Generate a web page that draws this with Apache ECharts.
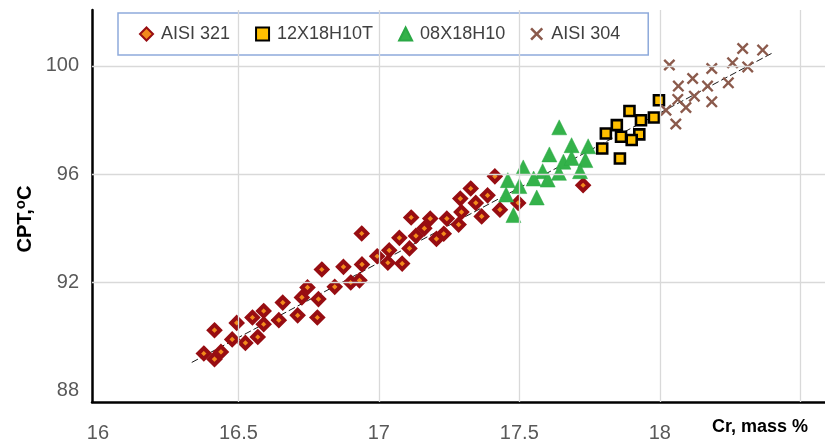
<!DOCTYPE html>
<html>
<head>
<meta charset="utf-8">
<script src="https://cdn.jsdelivr.net/npm/echarts@6/dist/echarts.min.js"></script>
<style>
html,body{margin:0;padding:0;background:#fff;}
#chart{width:825px;height:443px;}
</style>
</head>
<body>
<div id="chart"></div>
<script>
// ---- data ----
const seriesNames = ['AISI 321', '12X18H10T', '08X18H10', 'AISI 304'];

const aisi321Cr = [16.377,16.415,16.438,16.415,16.478,16.494,16.525,16.550,16.569,16.590,16.590,16.644,16.658,16.711,16.726,16.746,16.781,16.785,16.797,16.843,16.874,16.900,16.931,16.939,16.940,16.994,17.032,17.037,17.083,17.109,17.073,17.115,17.132,17.162,17.183,17.205,17.231,17.242,17.284,17.294,17.290,17.327,17.345,17.366,17.387,17.413,17.431,17.496,17.727];
const aisi321CPT = [89.38,89.17,89.44,90.24,89.90,90.51,89.77,90.71,89.99,90.95,90.46,90.61,91.26,90.79,91.45,91.82,90.71,91.39,92.48,91.84,92.58,92.00,92.08,93.81,92.67,92.97,92.73,93.19,92.70,93.26,93.65,94.40,93.72,94.00,94.36,93.61,93.80,94.36,94.14,94.60,95.10,95.47,94.94,94.44,95.22,95.92,94.69,94.94,95.59];

const steel12Cr = [17.997,17.892,17.933,17.979,17.847,17.808,17.862,17.927,17.900,17.795,17.858];
const steel12CPT = [98.73,98.33,97.99,98.09,97.81,97.50,97.38,97.47,97.26,96.95,96.58];

const steel08Cr = [17.642,17.686,17.745,17.607,17.657,17.686,17.735,17.514,17.583,17.641,17.716,17.459,17.551,17.601,17.500,17.453,17.562,17.479];
const steel08CPT = [97.73,97.07,97.03,96.73,96.46,96.60,96.52,96.25,96.11,96.05,96.11,95.78,95.84,95.80,95.56,95.25,95.14,94.49];

const aisi304Cr = [18.034,18.295,18.366,18.259,18.185,18.313,18.117,18.066,18.170,18.244,18.123,18.064,18.185,18.093,18.022,18.057];
const aisi304CPT = [100.03,100.64,100.58,100.11,99.90,99.96,99.53,99.25,99.25,99.37,98.88,98.76,98.67,98.46,98.36,97.85];

const trendCr = [16.334, 18.402];
const trendCPT = [89.05, 100.48];

const xTickLabels = [16, 16.5, 17, 17.5, 18];
const xGridValues = [16.5, 17, 17.5, 18, 18.5];
const yTickLabels = [88, 92, 96, 100];
const yGridValues = [92, 96, 100];

// ---- chart ----
const zip = (xs, ys) => xs.map((x, i) => [x, ys[i]]);
const crossPath = 'path://M0,1.4L1.4,0L5,3.6L8.6,0L10,1.4L6.4,5L10,8.6L8.6,10L5,6.4L1.4,10L0,8.6L3.6,5Z';
const FONT = "'Liberation Sans', Arial, sans-serif";

const chart = echarts.init(document.getElementById('chart'), null, {renderer: 'canvas'});

const gridMarks = xGridValues.map(v => ({xAxis: v})).concat(yGridValues.map(v => ({yAxis: v})));

chart.setOption({
  animation: false,
  backgroundColor: '#ffffff',
  grid: {left: 92, right: 0, top: 10, bottom: 41},
  legend: {
    data: seriesNames,
    left: 118, top: 13,
    padding: [12, 28, 12, 21],
    borderColor: '#8eaadb', borderWidth: 1.5,
    backgroundColor: '#ffffff',
    itemGap: 25,
    itemWidth: 13, itemHeight: 13,
    textStyle: {fontFamily: FONT, fontSize: 18, color: '#404040', padding: [0, 0, 0, 3]}
  },
  xAxis: {
    type: 'value', min: 15.979, max: 18.588,
    axisLine: {show: true, onZero: false, lineStyle: {color: '#000', width: 2.5}},
    axisTick: {show: false},
    splitLine: {show: false},
    axisLabel: {customValues: xTickLabels, fontFamily: FONT, fontSize: 20, color: '#595959', margin: 21}
  },
  yAxis: {
    type: 'value', min: 87.59, max: 102.06,
    axisLine: {show: true, onZero: false, lineStyle: {color: '#000', width: 2.5}},
    axisTick: {show: false},
    splitLine: {show: false},
    axisLabel: {customValues: yTickLabels, fontFamily: FONT, fontSize: 20, color: '#595959', margin: 13}
  },
  graphic: [
    {type: 'text', left: 712, top: 418, z: 10,
     style: {text: 'Cr, mass %', fontFamily: FONT, fontSize: 18, fontWeight: 'bold', fill: '#000'}},
    {type: 'text', x: 25, y: 219, rotation: Math.PI / 2, z: 10,
     style: {text: '{a|CPT,}{b|o}{a|C}', align: 'center', verticalAlign: 'middle',
       rich: {a: {fontFamily: FONT, fontSize: 20, fontWeight: 'bold', fill: '#000', color: '#000'},
              b: {fontFamily: FONT, fontSize: 15, fontWeight: 'bold', fill: '#000', color: '#000', verticalAlign: 'top', padding: [0, 0, 8, 0]}}}}
  ],
  series: [
    {
      type: 'line', name: 'grid', data: [], silent: true, z: 0,
      markLine: {silent: true, symbol: 'none', label: {show: false},
        lineStyle: {color: '#d9d9d9', width: 1.3, type: 'solid'}, data: gridMarks}
    },
    {
      type: 'line', name: 'trend', data: zip(trendCr, trendCPT), z: 1, symbol: 'none', silent: true,
      lineStyle: {color: '#1a1a1a', width: 1, type: [7, 3]}
    },
    {
      type: 'scatter', name: seriesNames[0], data: zip(aisi321Cr, aisi321CPT), z: 3,
      symbol: 'diamond', symbolSize: 11,
      itemStyle: {color: '#f28a1c', borderColor: '#970d12', borderWidth: 4, opacity: 1}
    },
    {
      type: 'scatter', name: seriesNames[1], data: zip(steel12Cr, steel12CPT), z: 3,
      symbol: 'rect', symbolSize: 10,
      itemStyle: {color: '#ffc000', borderColor: '#000', borderWidth: 2.6, opacity: 1}
    },
    {
      type: 'scatter', name: seriesNames[2], data: zip(steel08Cr, steel08CPT), z: 3,
      symbol: 'triangle', symbolSize: 15,
      itemStyle: {color: '#34b24a', borderColor: '#2aa845', borderWidth: 0.5, opacity: 1}
    },
    {
      type: 'scatter', name: seriesNames[3], data: zip(aisi304Cr, aisi304CPT), z: 3,
      symbol: crossPath, symbolSize: 12,
      itemStyle: {color: '#8b5a4c', opacity: 1}
    }
  ]
});
</script>
</body>
</html>
